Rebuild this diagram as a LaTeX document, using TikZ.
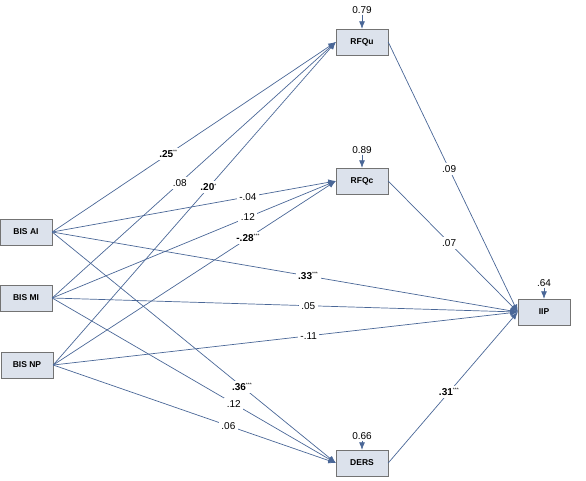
\documentclass[tikz,border=0pt]{standalone}
\usepackage{fontspec}
\setmainfont{Liberation Sans}
\usetikzlibrary{arrows.meta}
\definecolor{linkblue}{HTML}{4A6797}
\definecolor{boxfill}{HTML}{DCE2EC}
\newcommand{\sig}[2]{\textbf{#1}\textsuperscript{\fontsize{5}{5}\selectfont #2}}

\begin{document}
\begin{tikzpicture}[x=1pt,y=-1pt,
  var/.style={draw=gray!90!black, fill=boxfill, minimum width=52pt,
    minimum height=26pt, inner sep=0pt, font=\bfseries\fontsize{8.5}{10}\selectfont},
  link/.style={draw=linkblue, line width=0.7pt, -{Latex[length=7.5pt,width=6pt]}},
  coef/.style={fill=white, inner sep=2.5pt, font=\fontsize{10}{12}\selectfont},
  resid/.style={font=\fontsize{10}{12}\selectfont, inner sep=1pt}]
  \useasboundingbox (0,0) rectangle (586,480);
  % predictors
  \node[var] (ai) at (26,232) {BIS AI};
  \node[var] (mi) at (26,298) {BIS MI};
  \node[var] (np) at (27,365) {BIS NP};
  % mediators and outcome
  \node[var] (rfqu) at (362,42) {RFQu};
  \node[var] (rfqc) at (362,181) {RFQc};
  \node[var] (ders) at (362,463) {DERS};
  \node[var] (iip) at (544,312) {IIP};
  % residual variances
  \node[resid] (eu) at (362,10) {0.79};
  \node[resid] (ec) at (362,150) {0.89};
  \node[resid] (ed) at (362,436) {0.66};
  \node[resid] (ei) at (544,283) {.64};
  \draw[link] (eu) -- (rfqu);
  \draw[link] (ec) -- (rfqc);
  \draw[link] (ed) -- (ders);
  \draw[link] (ei) -- (iip);
  % paths to RFQu
  \draw[link] (ai.east) -- node[coef,pos=.41] {\sig{.25}{**}} (rfqu.west);
  \draw[link] (mi.east) -- node[coef,pos=.45] {.08} (rfqu.west);
  \draw[link] (np.east) -- node[coef,pos=.55] {\sig{.20}{*}} (rfqu.west);
  % paths to RFQc
  \draw[link] (ai.east) -- node[coef,pos=.69] {-.04} (rfqc.west);
  \draw[link] (mi.east) -- node[coef,pos=.69] {.12} (rfqc.west);
  \draw[link] (np.east) -- node[coef,pos=.69] {\sig{-.28}{***}} (rfqc.west);
  % direct paths to IIP
  \draw[link] (ai.east) -- node[coef,pos=.55] {\sig{.33}{***}} (iip.west);
  \draw[link] (mi.east) -- node[coef,pos=.55] {.05} (iip.west);
  \draw[link] (np.east) -- node[coef,pos=.55] {-.11} (iip.west);
  % paths to DERS
  \draw[link] (ai.east) -- node[coef,pos=.67] {\sig{.36}{***}} (ders.west);
  \draw[link] (mi.east) -- node[coef,pos=.64] {.12} (ders.west);
  \draw[link] (np.east) -- node[coef,pos=.62] {.06} (ders.west);
  % mediators to IIP
  \draw[link] (rfqu.east) -- node[coef,pos=.47] {.09} (iip.west);
  \draw[link] (rfqc.east) -- node[coef,pos=.47] {.07} (iip.west);
  \draw[link] (ders.east) -- node[coef,pos=.47] {\sig{.31}{***}} (iip.west);
\end{tikzpicture}
\end{document}
